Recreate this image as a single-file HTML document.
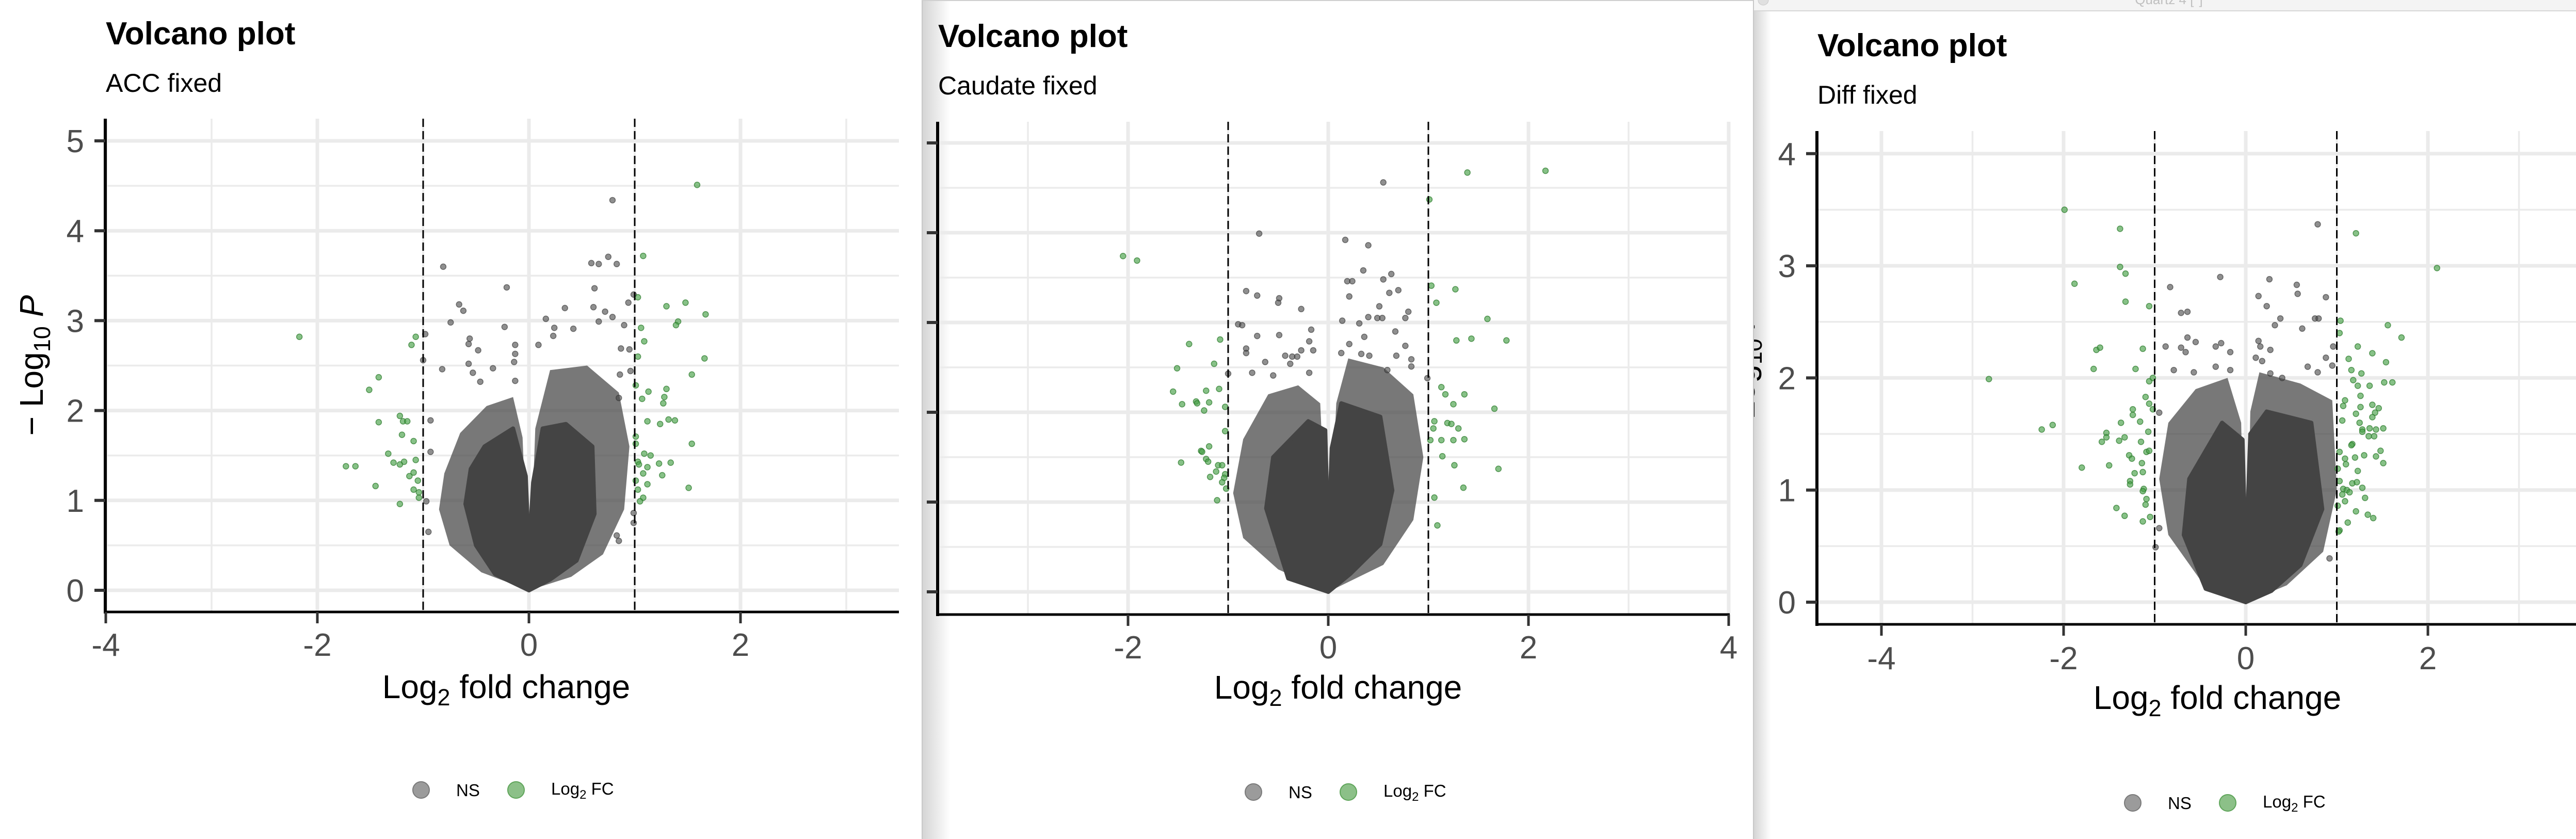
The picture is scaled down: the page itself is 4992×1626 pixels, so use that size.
<!DOCTYPE html>
<html><head><meta charset="utf-8"><style>
html,body{margin:0;padding:0;background:#fff;}
svg{display:block;font-family:"Liberation Sans",Arial,sans-serif;}
</style></head><body>
<svg id="chart" width="4992" height="1626" viewBox="0 0 4992 1626" xmlns="http://www.w3.org/2000/svg">
<defs>
<linearGradient id="shadow" x1="0" x2="1" y1="0" y2="0"><stop offset="0" stop-color="#d4d4d4"/><stop offset="1" stop-color="#ffffff"/></linearGradient>
<clipPath id="clip3"><rect x="3399" y="0" width="1593" height="1626"/></clipPath>
</defs>
<rect x="0" y="0" width="4992" height="1626" fill="#fff"/>
<g>
<rect x="1787" y="0" width="55" height="1626" fill="url(#shadow)"/>
<line x1="1787" y1="0" x2="1787" y2="1626" stroke="#c8c8c8" stroke-width="2"/>
<line x1="1787" y1="1" x2="3398" y2="1" stroke="#d0d0d0" stroke-width="2"/>
</g>
<g>
<rect x="3398" y="0" width="34" height="1626" fill="url(#shadow)"/>
<line x1="3398" y1="0" x2="3398" y2="1626" stroke="#c8c8c8" stroke-width="2"/>
<rect x="3399" y="0" width="1593" height="21" fill="#f4f4f4"/>
<line x1="3399" y1="21" x2="4992" y2="21" stroke="#d6d6d6" stroke-width="2"/>
<circle cx="3417" cy="0" r="10" fill="#e0e0e0" stroke="#c8c8c8"/>
<text x="4203" y="8" text-anchor="middle" font-size="26" fill="#c0c0c0">Quartz 4 [*]</text>
</g>
<g id="p1"></g>
<g id="p2"></g>
<g id="p3" clip-path="url(#clip3)"></g>
</svg>
<script>
// ---------- data (log2FC, -log10 P) ----------
const p1Green=[[-2.17,2.82],[-1.73,1.38],[-1.64,1.38],[-1.51,2.23],[-1.42,2.37],[-1.42,1.87],[-1.45,1.16],[-1.33,1.52],[-1.28,1.42],[-1.22,1.94],[-1.19,1.88],[-1.15,1.88],[-1.2,1.73],[-1.18,1.43],[-1.22,1.40],[-1.22,0.96],[-1.13,1.27],[-1.09,1.31],[-1.09,1.66],[-1.07,1.45],[-1.05,1.22],[-1.09,1.12],[-1.04,1.03],[-1.04,1.09],[-1.11,2.73],[-1.07,2.82],
[1.59,4.51],[1.08,3.72],[1.03,3.26],[1.3,3.16],[1.48,3.2],[1.67,3.07],[1.41,2.99],[1.39,2.95],[1.06,2.92],[1.09,2.77],[1.03,2.6],[1.66,2.58],[1.54,2.4],[1.01,2.28],[1.3,2.24],[1.13,2.21],[1.28,2.15],[1.27,2.08],[1.07,2.13],[1.12,1.88],[1.32,1.9],[1.38,1.89],[1.24,1.85],[1.01,1.71],[1.01,1.63],[1.54,1.63],[1.09,1.52],[1.15,1.5],[1.03,1.43],[1.04,1.40],[1.34,1.42],[1.23,1.41],[1.12,1.37],[1.08,1.3],[1.26,1.28],[1.01,1.22],[1.12,1.18],[1.51,1.14],[1.03,1.12],[1.08,1.03],[1.05,0.99]];
const p1Grey=[[-0.81,3.6],[-0.21,3.37],[0.79,4.34],[0.59,3.64],[0.66,3.63],[0.75,3.71],[0.83,3.63],[-0.66,3.18],[-0.62,3.11],[-0.74,2.98],[-0.98,2.85],[-1.0,2.56],[-0.23,2.93],[0.34,3.14],[0.16,3.02],[0.62,3.36],[0.99,3.29],[0.94,3.2],[0.61,3.15],[0.72,3.1],[0.79,3.04],[0.66,2.99],[0.9,2.95],[0.24,2.92],[-0.56,2.8],[-0.57,2.74],[-0.48,2.67],[-0.13,2.73],[-0.13,2.63],[-0.14,2.54],[0.09,2.73],[0.23,2.83],[0.42,2.91],[-0.82,2.46],[-0.57,2.52],[-0.53,2.42],[-0.34,2.47],[-0.46,2.32],[-0.13,2.33],[0.87,2.69],[0.95,2.68],[0.96,2.44],[0.86,2.4],[0.85,2.14],[-0.93,1.89],[-0.97,0.99],[-0.95,0.65],[-0.93,1.54],[0.99,0.86],[0.99,0.75],[0.85,0.55],[0.83,0.61]];
const p1CoreL=[[0,0],[-0.32,0.18],[-0.5,0.5],[-0.6,0.96],[-0.55,1.35],[-0.42,1.6],[-0.15,1.8],[-0.03,1.27],[0,0.4]];
const p1CoreR=[[0,0.4],[0.04,1.2],[0.13,1.8],[0.35,1.85],[0.6,1.6],[0.62,0.85],[0.45,0.33],[0.2,0.12],[0,0]];
const p1HaloL=[[0,0],[-0.45,0.2],[-0.75,0.5],[-0.85,0.9],[-0.8,1.3],[-0.65,1.75],[-0.4,2.05],[-0.15,2.15],[-0.06,1.7],[-0.02,0.5]];
const p1HaloR=[[0.02,0.5],[0.06,1.8],[0.2,2.45],[0.55,2.5],[0.85,2.2],[0.95,1.6],[0.9,0.9],[0.7,0.4],[0.4,0.15],[0,0]];

const p2Green=[[2.17,4.69],[1.39,4.67],[1.01,4.37],[-2.05,3.74],[-1.91,3.69],[1.03,3.41],[1.27,3.37],[1.08,3.22],[1.59,3.04],[1.28,2.8],[1.43,2.82],[1.78,2.8],[-1.39,2.76],[-1.08,2.81],[-1.14,2.54],[-1.51,2.49],[-1.55,2.23],[-1.46,2.09],[-1.32,2.12],[-1.31,2.1],[-1.22,2.24],[-1.09,2.26],[-1.19,2.11],[-1.24,2.02],[-1.03,2.06],[-1.03,1.79],[1.13,2.28],[1.17,2.2],[1.36,2.2],[1.25,2.09],[1.66,2.04],[1.06,1.9],[1.05,1.82],[1.19,1.88],[1.23,1.87],[1.3,1.82],[1.13,1.69],[1.25,1.69],[1.36,1.7],[1.02,1.69],[-1.47,1.44],[-1.27,1.57],[-1.26,1.56],[-1.19,1.62],[-1.22,1.48],[-1.2,1.45],[-1.1,1.41],[-1.06,1.41],[-1.12,1.34],[-1.18,1.28],[-1.03,1.31],[-1.04,1.27],[-1.06,1.22],[-1.02,1.15],[-1.11,1.02],[1.14,1.51],[1.26,1.41],[1.7,1.37],[1.35,1.16],[1.06,1.05],[1.09,0.74]];
const p2Grey=[[0.55,4.56],[-0.69,3.99],[0.17,3.92],[0.4,3.86],[0.35,3.58],[0.19,3.46],[0.24,3.46],[0.55,3.48],[0.63,3.54],[0.61,3.33],[0.7,3.36],[0.21,3.29],[-0.82,3.35],[-0.71,3.3],[-0.49,3.27],[-0.5,3.22],[-0.27,3.15],[0.51,3.18],[0.14,3.02],[0.31,2.99],[0.4,3.06],[0.49,3.05],[0.54,3.05],[0.8,3.12],[0.77,3.05],[-0.9,2.98],[-0.86,2.97],[-0.17,2.92],[0.67,2.9],[-0.71,2.85],[-0.49,2.86],[-0.19,2.79],[0.36,2.84],[-0.82,2.71],[-0.82,2.66],[-0.43,2.63],[-0.36,2.62],[-0.31,2.62],[-0.27,2.69],[-0.15,2.69],[-0.38,2.54],[0.77,2.74],[0.21,2.76],[0.13,2.66],[0.33,2.65],[0.41,2.63],[0.68,2.63],[0.83,2.59],[0.83,2.51],[-0.63,2.56],[-0.76,2.44],[-0.55,2.41],[-0.19,2.44],[0.59,2.47],[-1.0,2.43],[0.99,2.38]];
const p2CoreL=[[0,0],[-0.4,0.15],[-0.62,0.93],[-0.55,1.5],[-0.2,1.9],[-0.03,1.8],[0,0.51]];
const p2CoreR=[[0,0.51],[0.035,1.6],[0.13,2.1],[0.52,1.95],[0.64,1.13],[0.52,0.53],[0.22,0.2],[0,0]];
const p2HaloL=[[0,0],[-0.5,0.25],[-0.85,0.6],[-0.95,1.1],[-0.85,1.7],[-0.6,2.2],[-0.3,2.3],[-0.08,2.1],[-0.02,0.6]];
const p2HaloR=[[0.02,0.6],[0.08,2.1],[0.2,2.6],[0.55,2.5],[0.85,2.2],[0.95,1.5],[0.85,0.8],[0.55,0.3],[0,0]];

const p3Green=[[-1.99,3.5],[-1.38,3.33],[-1.38,2.99],[-1.32,2.93],[-1.88,2.84],[-1.32,2.68],[-1.06,2.64],[-2.82,1.99],[-2.24,1.54],[-2.12,1.58],[-1.8,1.2],[-1.64,2.25],[-1.6,2.27],[-1.67,2.08],[-1.13,2.26],[-1.21,2.08],[-1.06,1.97],[-1.02,2.0],[-1.1,1.83],[-1.06,1.77],[-1.02,1.72],[-1.24,1.72],[-1.24,1.67],[-1.37,1.6],[-1.16,1.61],[-1.53,1.51],[-1.53,1.47],[-1.58,1.43],[-1.39,1.44],[-1.33,1.47],[-1.07,1.52],[-1.15,1.43],[-1.28,1.31],[-1.25,1.28],[-1.09,1.34],[-1.06,1.35],[-1.14,1.24],[-1.5,1.22],[-1.22,1.15],[-1.13,1.16],[-1.27,1.08],[-1.27,1.05],[-1.12,1.01],[-1.13,0.99],[-1.09,0.92],[-1.1,0.87],[-1.42,0.84],[-1.33,0.77],[-1.13,0.72],[-1.05,0.76],
[1.21,3.29],[2.1,2.98],[1.04,2.51],[1.03,2.4],[1.56,2.47],[1.71,2.36],[1.23,2.28],[1.39,2.22],[1.13,2.17],[1.54,2.14],[1.16,2.07],[1.27,2.04],[1.18,1.98],[1.23,1.93],[1.36,1.93],[1.52,1.96],[1.61,1.96],[1.09,1.8],[1.26,1.84],[1.07,1.75],[1.26,1.74],[1.39,1.76],[1.46,1.73],[1.42,1.69],[1.06,1.62],[1.25,1.6],[1.39,1.65],[1.21,1.68],[1.36,1.55],[1.43,1.54],[1.51,1.55],[1.28,1.54],[1.28,1.52],[1.35,1.48],[1.41,1.48],[1.17,1.41],[1.16,1.4],[1.03,1.34],[1.09,1.28],[1.2,1.29],[1.3,1.31],[1.48,1.35],[1.43,1.3],[1.51,1.24],[1.01,1.19],[1.1,1.23],[1.23,1.17],[1.17,1.06],[1.22,1.07],[1.28,1.02],[1.03,1.08],[1.07,1.01],[1.11,1.0],[1.14,0.98],[1.06,0.96],[1.09,0.9],[1.31,0.93],[1.01,0.86],[1.21,0.81],[1.12,0.71],[1.34,0.78],[1.4,0.75],[1.03,0.64],[1.02,0.63]];
const p3Grey=[[0.79,3.37],[-0.28,2.9],[-0.83,2.81],[0.26,2.88],[0.56,2.83],[0.57,2.75],[0.14,2.73],[0.88,2.72],[0.23,2.64],[-0.71,2.58],[-0.64,2.59],[0.38,2.53],[0.32,2.47],[0.62,2.44],[0.76,2.53],[0.8,2.53],[-0.64,2.36],[-0.55,2.32],[-0.88,2.28],[-0.71,2.27],[-0.66,2.23],[-0.33,2.28],[-0.27,2.31],[-0.17,2.23],[0.14,2.33],[0.16,2.28],[0.27,2.25],[0.11,2.18],[0.18,2.15],[0.88,2.18],[0.68,2.1],[0.79,2.05],[0.95,2.11],[0.96,2.28],[-0.79,2.07],[-0.57,2.05],[-0.33,2.1],[-0.17,2.07],[0.27,2.04],[0.4,2.0],[-0.95,1.69],[-0.95,0.66],[-0.99,0.49],[0.92,0.39]];
const p3CoreL=[[0,0],[-0.44,0.12],[-0.68,0.6],[-0.62,1.1],[-0.26,1.6],[-0.035,1.45],[0,0.33]];
const p3CoreR=[[0,0.33],[0.05,1.5],[0.23,1.7],[0.72,1.6],[0.84,0.83],[0.6,0.33],[0.28,0.1],[0,0]];
const p3HaloL=[[0,0],[-0.5,0.2],[-0.85,0.6],[-0.95,1.1],[-0.85,1.6],[-0.55,1.9],[-0.2,2.0],[-0.05,1.6],[-0.02,0.4]];
const p3HaloR=[[0.02,0.4],[0.05,1.7],[0.15,2.05],[0.6,1.95],[0.95,1.8],[1.0,1.0],[0.85,0.45],[0.45,0.15],[0,0]];

const p1XTicks=[-4,-2,0,2], p1YTicks=[0,1,2,3,4,5];
const p2XTicks=[-2,0,2,4], p2YTicks=[0,1,2,3,4,5];
const p3XTicks=[-4,-2,0,2], p3YTicks=[0,1,2,3,4];
const cutoffs=[-1,1];

const NS='http://www.w3.org/2000/svg';
function mk(parent,tag,attrs){const e=document.createElementNS(NS,tag);for(const k in attrs)e.setAttribute(k,attrs[k]);parent.appendChild(e);return e;}

function drawPanel(g,c,d){
  const X=v=>c.x0+c.sx*v, Y=v=>c.y0-c.sy*v;
  const grid=mk(g,'g',{});
  
  
  for(let v=Math.ceil(c.xmin);v<=Math.floor(c.xmax);v++){
    const l=mk(grid,'line',{x1:X(v),x2:X(v),y1:c.top,y2:c.bottom,stroke:'#ebebeb','stroke-width':(v%2===0)?7:3.5});
    
    
  }
  for(let k=0;k*0.5<=c.ymax;k++){
    const v=k*0.5;
    const l=mk(grid,'line',{x1:c.left,x2:c.right,y1:Y(v),y2:Y(v),stroke:'#ebebeb','stroke-width':(k%2===0)?7:3.5});
    
    
  }
  const pts=mk(g,'g',{});
  
  
  const poly=(arr,fill,sw,name)=>{const p=mk(pts,'polygon',{points:arr.map(q=>X(q[0])+','+Y(q[1])).join(' '),fill:fill,stroke:sw?fill:'none','stroke-width':sw,'stroke-linejoin':'round'});
    
    };
  poly(d.haloL,'rgba(68,68,68,0.72)',0,'ns-cloud-halo-left');
  poly(d.haloR,'rgba(68,68,68,0.72)',0,'ns-cloud-halo-right');
  poly(d.coreL,'#444444',8,'ns-cloud-core-left');
  poly(d.coreR,'#444444',8,'ns-cloud-core-right');
  d.grey.forEach(q=>{const e=mk(pts,'circle',{cx:X(q[0]),cy:Y(q[1]),r:5.5,fill:'rgba(68,68,68,0.6)',stroke:'rgba(50,50,50,0.6)','stroke-width':1.5});
    
    });
  d.green.forEach(q=>{const e=mk(pts,'circle',{cx:X(q[0]),cy:Y(q[1]),r:5.5,fill:'rgba(70,160,70,0.65)',stroke:'rgba(40,120,40,0.7)','stroke-width':1.5});
    
    });
  cutoffs.forEach(v=>{const l=mk(g,'line',{x1:X(v),x2:X(v),y1:c.top,y2:c.bottom,stroke:'#000','stroke-width':3,'stroke-dasharray':'16 8'});
    
    });
  const ax=mk(g,'g',{});
  
  
  mk(ax,'line',{x1:c.left,x2:c.left,y1:c.top,y2:c.bottom+3,stroke:'#000','stroke-width':6});
  mk(ax,'line',{x1:c.left-3,x2:c.right,y1:c.bottom,y2:c.bottom,stroke:'#000','stroke-width':5});
  d.xt.forEach(v=>{mk(ax,'line',{x1:X(v),x2:X(v),y1:c.bottom,y2:c.bottom+22,stroke:'#333','stroke-width':5});
    const t=mk(ax,'text',{x:X(v),y:c.xlabY,'text-anchor':'middle','font-size':62,fill:'#4d4d4d'});
    
    
    t.textContent=String(v);});
  d.yt.forEach(v=>{mk(ax,'line',{x1:c.left-21,x2:c.left,y1:Y(v),y2:Y(v),stroke:'#333','stroke-width':6});
    if(c.ylab){const t=mk(ax,'text',{x:c.left-41,y:Y(v)+22,'text-anchor':'end','font-size':62,fill:'#4d4d4d'});
      
      
      t.textContent=String(v);}});
  const ti=mk(g,'text',{x:c.left+1,y:c.titleY,'font-size':62,'font-weight':'bold',fill:'#000'});
  
  
  ti.textContent='Volcano plot';
  const st=mk(g,'text',{x:c.left+1,y:c.titleY+92,'font-size':50,fill:'#000'});
  
  
  st.textContent=c.sub;
  const xt=mk(g,'text',{x:c.xtX,y:c.xtY,'text-anchor':'middle','font-size':64,fill:'#000'});
  
  
  xt.innerHTML='Log<tspan font-size="45" dy="14">2</tspan><tspan dy="-14"> fold change</tspan>';
  if(c.ytitle){
    const yt=mk(g,'text',{x:0,y:0,'text-anchor':'middle','font-size':64,fill:'#000',transform:'translate('+(c.left-121)+','+((c.top+c.bottom)/2)+') rotate(-90)'});
    
    
    yt.innerHTML='− Log<tspan font-size="45" dy="14">10</tspan><tspan dy="-14" font-style="italic"> P</tspan>';
  }
  const lg=mk(g,'g',{});
  
  
  const c1=mk(lg,'circle',{cx:c.legX,cy:c.legY,r:16,fill:'#9b9b9b',stroke:'#7a7a7a','stroke-width':2});
  
  
  const t1=mk(lg,'text',{x:c.legX+68,y:c.legY+12,'font-size':33,fill:'#000'});
  
  
  t1.textContent='NS';
  const c2=mk(lg,'circle',{cx:c.legX+184,cy:c.legY,r:16,fill:'#8cc088',stroke:'#5fa55a','stroke-width':2});
  
  
  const t2=mk(lg,'text',{x:c.legX+252,y:c.legY+9,'font-size':33,fill:'#000'});
  
  
  t2.innerHTML='Log<tspan font-size="24" dy="8">2</tspan><tspan dy="-8"> FC</tspan>';
}

drawPanel(document.getElementById('p1'),
 {x0:1025,sx:205,y0:1144,sy:174.2,left:204,right:1742,top:230,bottom:1186,xmin:-4,xmax:3.49,ymax:5,ylab:true,ytitle:true,xlabY:1271,titleY:86,sub:'ACC fixed',xtX:981,xtY:1353,legX:816,legY:1531},
 {green:p1Green,grey:p1Grey,coreL:p1CoreL,coreR:p1CoreR,haloL:p1HaloL,haloR:p1HaloR,xt:p1XTicks,yt:p1YTicks});
drawPanel(document.getElementById('p2'),
 {x0:2574,sx:194,y0:1147,sy:174,left:1817,right:3352,top:236,bottom:1191,xmin:-3.9,xmax:4,ymax:5,ylab:false,ytitle:false,xlabY:1276,titleY:91,sub:'Caudate fixed',xtX:2593,xtY:1354,legX:2429,legY:1535},
 {green:p2Green,grey:p2Grey,coreL:p2CoreL,coreR:p2CoreR,haloL:p2HaloL,haloR:p2HaloR,xt:p2XTicks,yt:p2YTicks});
drawPanel(document.getElementById('p3'),
 {x0:4352,sx:176.5,y0:1167,sy:217.3,left:3521,right:4992,top:254,bottom:1210,xmin:-4.7,xmax:3.63,ymax:4,ylab:true,ytitle:true,xlabY:1297,titleY:109,sub:'Diff fixed',xtX:4297,xtY:1374,legX:4133,legY:1556},
 {green:p3Green,grey:p3Grey,coreL:p3CoreL,coreR:p3CoreR,haloL:p3HaloL,haloR:p3HaloR,xt:p3XTicks,yt:p3YTicks});
</script>
</body></html>
